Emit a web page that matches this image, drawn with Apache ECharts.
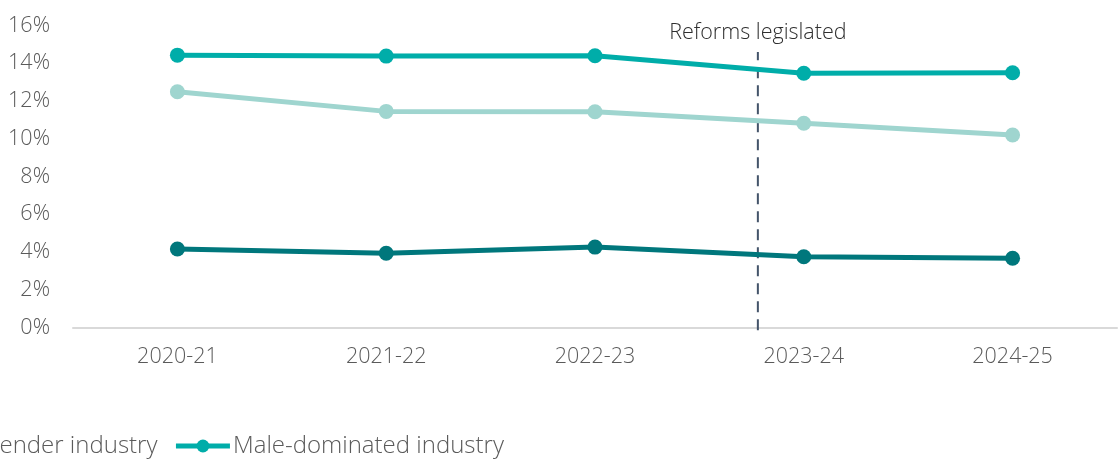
<!DOCTYPE html>
<html>
<head>
<meta charset="utf-8">
<script src="https://cdn.jsdelivr.net/npm/echarts@6/dist/echarts.min.js"></script>
<style>
  html, body { margin: 0; padding: 0; background: #ffffff; }
  #chart { width: 1120px; height: 462px; }
</style>
</head>
<body>
<div id="chart"></div>
<script>
// Financial years on the category axis
const years = ['2020-21', '2021-22', '2022-23', '2023-24', '2024-25'];

// Series values (%)
const femaleDominated = [4.16, 3.93, 4.26, 3.75, 3.67];
const mixedGender = [12.49, 11.45, 11.43, 10.82, 10.20];
const maleDominated = [14.43, 14.38, 14.40, 13.47, 13.50];

// Y-axis range and step (%)
const yMin = 0;
const yMax = 16;
const yStep = 2;

// Reforms marker: position along the year index and its vertical span (%)
const reformIndex = 2.78;
const reformSpan = [-0.15, 14.6];
const reformLabel = 'Reforms legislated';

const FONT = "'Open Sans', 'Noto Sans', sans-serif";
const TEXT = '#5a5a5a';

const chart = echarts.init(document.getElementById('chart'), null, { renderer: 'canvas' });

function lineSeries(name, data, color) {
  return {
    name: name,
    type: 'line',
    data: data,
    xAxisIndex: 0,
    yAxisIndex: 0,
    symbol: 'circle',
    symbolSize: 15,
    color: color,
    lineStyle: { width: 5, color: color },
    itemStyle: { color: color },
    emphasis: { disabled: true },
    z: 3
  };
}

chart.setOption({
  animation: false,
  backgroundColor: '#ffffff',
  textStyle: { fontFamily: FONT },
  grid: { left: 73, right: 3, top: 25.5, bottom: 134.5, containLabel: false },
  legend: {
    data: ['Female-dominated industry', 'Mixed-gender industry', 'Male-dominated industry'],
    left: -523,
    top: 429,
    itemWidth: 54,
    itemHeight: 16,
    itemGap: 16,
    lineStyle: { width: 5 },
    textStyle: { fontFamily: FONT, fontSize: 24, fontWeight: 300, color: TEXT, padding: [0, 0, 0, -2] }
  },
  xAxis: [
    {
      type: 'category',
      data: years,
      boundaryGap: true,
      axisLine: { show: true, lineStyle: { color: '#d9d9d9', width: 2 } },
      axisTick: { show: false },
      axisLabel: { margin: 18, fontFamily: FONT, fontSize: 21.5, fontWeight: 300, color: TEXT },
      splitLine: { show: false }
    },
    {
      type: 'value',
      min: -0.5,
      max: years.length - 0.5,
      show: false
    }
  ],
  yAxis: [
    {
      type: 'value',
      min: yMin,
      max: yMax,
      interval: yStep,
      axisLine: { show: false },
      axisTick: { show: false },
      splitLine: { show: false },
      axisLabel: {
        margin: 23,
        formatter: '{value}%',
        fontFamily: FONT, fontSize: 21.5, fontWeight: 300, color: TEXT
      }
    },
    {
      type: 'value',
      min: yMin,
      max: yMax,
      show: false
    }
  ],
  series: [
    lineSeries('Female-dominated industry', femaleDominated, '#00777c'),
    lineSeries('Mixed-gender industry', mixedGender, '#9fd5cf'),
    lineSeries('Male-dominated industry', maleDominated, '#00ada9'),
    {
      name: 'reform',
      type: 'line',
      xAxisIndex: 1,
      yAxisIndex: 1,
      data: [[reformIndex, reformSpan[0]], [reformIndex, reformSpan[1]]],
      symbol: 'circle',
      symbolSize: 1,
      itemStyle: { color: 'rgba(0,0,0,0)' },
      clip: false,
      silent: true,
      z: 2,
      lineStyle: { color: '#44546a', width: 2, type: [11, 7] },
      label: {
        show: true,
        position: 'top',
        distance: 8,
        formatter: function (p) { return p.dataIndex === 1 ? reformLabel : ''; },
        fontFamily: FONT, fontSize: 21.5, fontWeight: 300, color: '#2e2e2e'
      }
    }
  ]
});
</script>
</body>
</html>
